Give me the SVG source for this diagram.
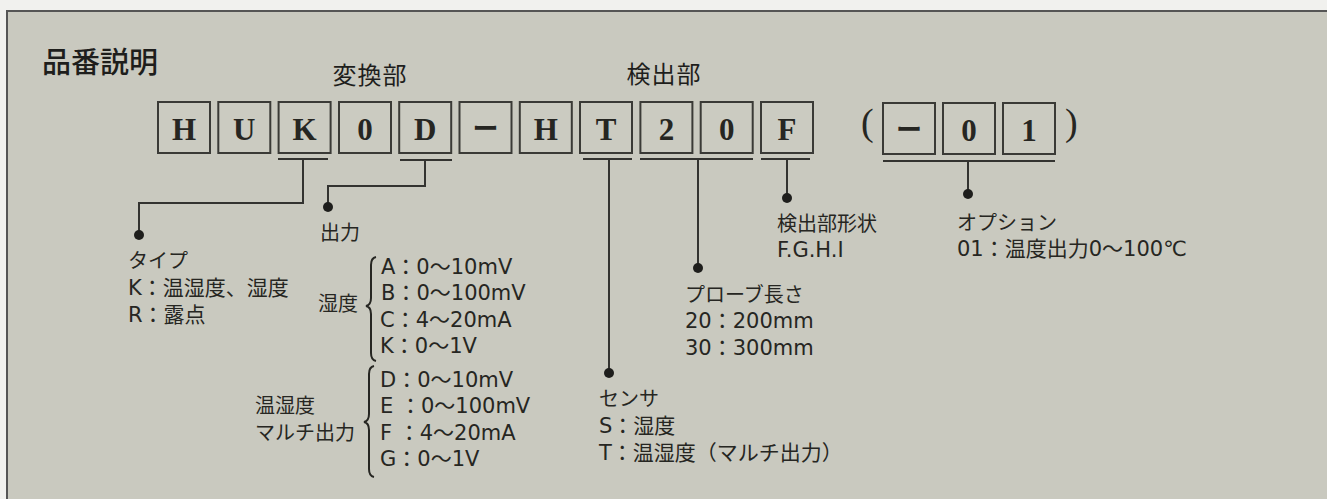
<svg xmlns="http://www.w3.org/2000/svg" width="1327" height="499" viewBox="0 0 1327 499">
<defs>
<style>
.bg{fill:#f1f1ee}
.panel{fill:#c9c9bf}
.edge{stroke:#555;stroke-width:2;fill:none}
.box{fill:#cbcbc1;stroke:#3a3a36;stroke-width:2}
.bl{font-family:"Liberation Serif","Times New Roman",serif;font-weight:bold;font-size:31px;fill:#262622;text-anchor:middle}
.dash{font-family:"Noto Sans CJK JP",sans-serif;font-weight:bold;font-size:26px;fill:#262622;text-anchor:middle}
.par{font-family:"Liberation Serif",serif;font-size:38px;fill:#262622}
.title{font-family:"Noto Sans CJK JP",sans-serif;font-weight:500;font-size:29px;fill:#1e1e1c}
.head{font-family:"Noto Sans CJK JP",sans-serif;font-size:24px;fill:#1e1e1c;text-anchor:middle;letter-spacing:1px}
.t{font-family:"DejaVu Sans","Noto Sans CJK JP",sans-serif;font-size:21px;fill:#262622}
.tj{font-family:"Noto Sans CJK JP",sans-serif;font-size:20px;fill:#262622}
.ln{stroke:#333330;stroke-width:2;fill:none}
.brace{stroke:#262622;stroke-width:2;fill:none}
.dot{fill:#1e1e1c}
</style>
</defs>
<rect class="bg" x="0" y="0" width="1327" height="499"/>
<rect class="panel" x="7" y="11" width="1320" height="488"/>
<path class="edge" d="M7 499 V11 H1327"/>

<text class="title" x="42" y="73">品番説明</text>
<text class="head" x="370" y="84">変換部</text>
<text class="head" x="664" y="83">検出部</text>

<g id="code-H1"><rect class="box" x="158" y="102" width="52" height="51"/><text class="bl" x="184" y="140">H</text></g>
<g id="code-U"><rect class="box" x="218.3" y="102" width="52" height="51"/><text class="bl" x="244.3" y="140">U</text></g>
<g id="code-K"><rect class="box" x="278.6" y="102" width="52" height="51"/><text class="bl" x="304.6" y="140">K</text></g>
<g id="code-0a"><rect class="box" x="339" y="102" width="52" height="51"/><text class="bl" x="365" y="140">0</text></g>
<g id="code-D"><rect class="box" x="399.2" y="102" width="52" height="51"/><text class="bl" x="425.2" y="140">D</text></g>
<g id="code-dash"><rect class="box" x="459.5" y="102" width="52" height="51"/><text class="dash" x="485.5" y="138">ー</text></g>
<g id="code-H2"><rect class="box" x="519.8" y="102" width="52" height="51"/><text class="bl" x="545.8" y="140">H</text></g>
<g id="code-T"><rect class="box" x="580" y="102" width="52" height="51"/><text class="bl" x="606" y="140">T</text></g>
<g id="code-2"><rect class="box" x="640.4" y="102" width="52" height="51"/><text class="bl" x="666.4" y="140">2</text></g>
<g id="code-0b"><rect class="box" x="700.7" y="102" width="52" height="51"/><text class="bl" x="726.7" y="140">0</text></g>
<g id="code-F"><rect class="box" x="761" y="102" width="52" height="51"/><text class="bl" x="787" y="140">F</text></g>
<g id="code-option">
<text class="par" x="861" y="135">(</text>
<rect class="box" x="883" y="103" width="52" height="51"/><text class="dash" x="909" y="139">ー</text>
<rect class="box" x="943" y="103" width="52" height="51"/><text class="bl" x="969" y="141">0</text>
<rect class="box" x="1003" y="103" width="52" height="51"/><text class="bl" x="1029" y="141">1</text>
<text class="par" x="1065" y="135">)</text>
</g>

<g id="connectors">
<path class="ln" d="M278 159 H328"/>
<path class="ln" d="M400 160 H452"/>
<path class="ln" d="M583 159 H632"/>
<path class="ln" d="M640 159 H753"/>
<path class="ln" d="M761 159 H810"/>
<path class="ln" d="M883 161 H1055"/>
<path class="ln" d="M303 159 V203 H139 V235"/>
<path class="ln" d="M425 160 V186 H328 V207"/>
<path class="ln" d="M609 159 V373"/>
<path class="ln" d="M698 159 V268"/>
<path class="ln" d="M787 159 V198"/>
<path class="ln" d="M968 161 V194"/>
<circle class="dot" cx="139" cy="235" r="5"/>
<circle class="dot" cx="328" cy="207" r="5"/>
<circle class="dot" cx="609" cy="373" r="5"/>
<circle class="dot" cx="698" cy="268" r="5"/>
<circle class="dot" cx="787" cy="198" r="5"/>
<circle class="dot" cx="968" cy="194" r="5"/>
</g>

<g id="type">
<text class="tj" x="128" y="268">タイプ</text>
<text class="t" x="128" y="295">K：温湿度、湿度</text>
<text class="t" x="128" y="322">R：露点</text>
</g>

<g id="output">
<text class="tj" x="320" y="240">出力</text>
<text class="tj" x="318" y="311">湿度</text>
<path class="brace" d="M376 257 Q371 258 371 265 L371 298 Q371 305 366 306 Q371 307 371 314 L371 353 Q371 360 376 361"/>
<text class="t" x="381" y="274">A：0～10mV</text>
<text class="t" x="381" y="300">B：0～100mV</text>
<text class="t" x="380" y="327">C：4～20mA</text>
<text class="t" x="380" y="353">K：0～1V</text>
<text class="tj" x="255" y="413">温湿度</text>
<text class="tj" x="255" y="440">マルチ出力</text>
<path class="brace" d="M374 366 Q369 367 369 374 L369 414 Q369 421 364 422 Q369 423 369 430 L369 469 Q369 476 374 477"/>
<text class="t" x="380" y="387">D：0～10mV</text>
<text class="t" x="380" y="413">E ：0～100mV</text>
<text class="t" x="380" y="440">F ：4～20mA</text>
<text class="t" x="380" y="466">G：0～1V</text>
</g>

<g id="sensor">
<text class="tj" x="599" y="406">センサ</text>
<text class="t" x="599" y="433">S：湿度</text>
<text class="t" x="599" y="460">T：温湿度（マルチ出力）</text>
</g>

<g id="probe">
<text class="tj" x="685" y="302">プローブ長さ</text>
<text class="t" x="685" y="328">20：200mm</text>
<text class="t" x="685" y="355">30：300mm</text>
</g>

<g id="shape">
<text class="tj" x="777" y="231">検出部形状</text>
<text class="t" x="777" y="257">F.G.H.I</text>
</g>

<g id="option">
<text class="tj" x="957" y="230">オプション</text>
<text class="t" x="957" y="256">01：温度出力0～100℃</text>
</g>
</svg>
